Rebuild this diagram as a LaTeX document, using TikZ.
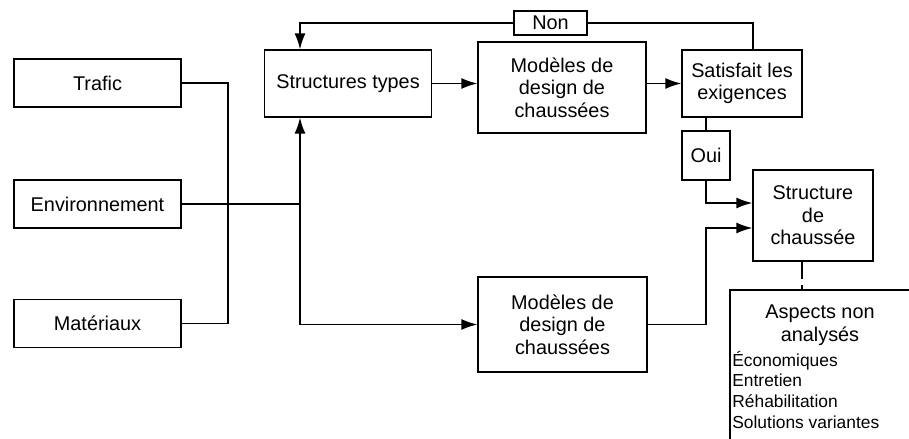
\documentclass[tikz,border=0pt]{standalone}
\usepackage{fontspec}
\setmainfont{Liberation Sans}
\usetikzlibrary{arrows.meta,positioning,calc}

\begin{document}
\begin{tikzpicture}[
      x=0.02cm,y=-0.02cm,
      font=\fontsize{11.3}{12.8}\selectfont,
      box/.style={draw,line width=0.8pt,inner sep=1pt,align=center},
      input/.style={box,minimum width=3.34cm,minimum height=0.96cm},
      tag/.style={draw,line width=0.8pt,inner sep=1pt,fill=white},
      wire/.style={line width=0.8pt},
      arrow/.style={-{Latex[length=3.2mm,width=2.2mm]},line width=0.8pt}
    ]
      \useasboundingbox (0,0) rectangle (909,439);

      % donnees d'entree
      \node[input] (trafic) at (97.5,83) {Trafic};
      \node[input] (env) at (97.5,204) {Environnement};
      \node[input] (mat) at (97.5,323.5) {Mat\'eriaux};

      \node[box,minimum width=3.34cm,minimum height=1.34cm] (types) at (348,83.5) {Structures types};
      \node[box,minimum width=3.36cm,minimum height=1.82cm] (modA) at (562,87.5) {Mod\`eles de\\design de\\chauss\'ees};
      \node[box,minimum width=2.4cm,minimum height=1.34cm] (satis) at (742,83.5) {Satisfait les\\exigences};
      \node[box,minimum width=2.4cm,minimum height=1.82cm] (struct) at (813,215.5) {Structure\\de\\chauss\'ee};
      \node[box,minimum width=3.38cm,minimum height=1.9cm] (modB) at (562.5,324.5) {Mod\`eles de\\design de\\chauss\'ees};

      \coordinate (bus) at (228,204);
      \coordinate (noeud) at (300,204);

      \draw[wire] (trafic.east) -| (bus) |- (mat.east);
      \draw[wire] (env.east) -- (noeud);
      \draw[arrow] (noeud) -- (noeud |- types.south);
      \draw[arrow] (noeud) |- (modB.west);
      \draw[arrow] (types.east) -- (types.east -| modA.west);
      \draw[arrow] (modA.east |- satis.west) -- (satis.west);

      % boucle de retour
      \node[tag,minimum width=1.46cm,minimum height=0.48cm] (non) at (550.5,23) {Non};
      \draw[wire] ($(satis.north)+(11,0)$) |- (non.east);
      \draw[arrow] (non.west) -| (noeud |- types.north);

      \node[tag,minimum width=0.96cm,minimum height=0.98cm] (oui) at (706,155.5) {Oui};
      \draw[wire] (oui.north) -- (oui.north |- satis.south);
      \draw[arrow] (oui.south) |- ($(struct.west)+(0,-12.5)$);
      \draw[arrow] (modB.east) -| ($(oui.south |- struct.west)+(0,12.5)$) -- ($(struct.west)+(0,12.5)$);

      % aspects non analyses
      \coordinate (cadre) at (730,290);
      \coordinate (pied) at ($(struct.south)+(-11,0)$);
      \draw[wire] ($(cadre)+(200,0)$) -- (cadre) -- ++(0,160);
      \draw[wire,dash pattern=on 10pt off 3pt] (pied) -- (pied |- cadre);
      \node[inner sep=0pt,align=center] (aspects) at (820,325) {Aspects non\\analys\'es};
      \node[inner sep=0pt,align=left,anchor=north west,font=\fontsize{9.9}{11.7}\selectfont] (liste) at (732,351)
        {\'Economiques\\Entretien\\R\'ehabilitation\\Solutions variantes};
    \end{tikzpicture}
\end{document}
